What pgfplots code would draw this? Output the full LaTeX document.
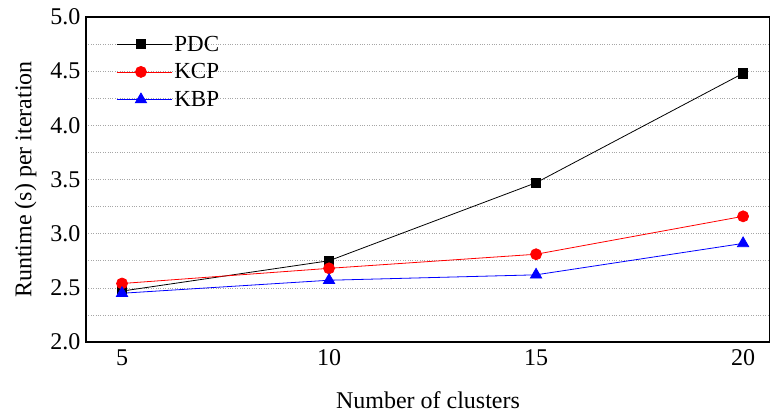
\documentclass[border=0pt]{standalone}
\usepackage{pgfplots}
\pgfplotsset{compat=1.18}
\usepackage{fontspec}
\setmainfont{Liberation Serif}
\begin{document}
\begin{tikzpicture}
\begin{axis}[
  name=ax,
  scale only axis,
  width=684pt, height=325pt,
  xmin=4.13, xmax=20.65,
  ymin=2, ymax=5,
  xtick={5,10,15,20},
  ytick={2,2.5,3,3.5,4,4.5,5},
  minor ytick={2.25,2.75,3.25,3.75,4.25,4.75},
  yticklabel style={/pgf/number format/fixed,/pgf/number format/fixed zerofill,/pgf/number format/precision=1, xshift=-2pt},
  /pgf/number format/assume math mode=true,
  ymajorgrids, yminorgrids,
  major grid style={gray!70, dotted, line width=0.6pt},
  minor grid style={gray!70, dotted, line width=0.6pt},
  tick style={draw=none},
  axis line style={line width=1.4pt},
  ticklabel style={font=\fontsize{24}{26}\selectfont},
  xticklabel style={yshift=-4pt},
  xlabel={Number of clusters},
  ylabel={Runtime (s) per iteration},
  label style={font=\fontsize{24}{26}\selectfont},
  xlabel style={yshift=-19pt},
  ylabel style={yshift=7pt},
  legend style={draw=none, fill=none, at={(0.04,0.955)}, anchor=north west, font=\fontsize{23}{25}\selectfont, row sep=7pt},
  legend cell align=left,
  legend image code/.code={\path (0pt,0pt) -- (55pt,0pt); \draw[#1,mark=none] (0pt,0pt) -- (48pt,0pt); \draw[#1, only marks] plot coordinates {(24pt,0pt)};},
]
\addplot[black, line width=0.8pt, mark=square*, mark size=4.7pt, mark options={solid}] coordinates {(5,2.47) (10,2.75) (15,3.47) (20,4.48)};
\addlegendentry{PDC}
\addplot[red, line width=0.8pt, mark=*, mark size=5.5pt] coordinates {(5,2.54) (10,2.68) (15,2.81) (20,3.16)};
\addlegendentry{KCP}
\addplot[blue, line width=0.8pt, mark=triangle*, mark size=6.5pt] coordinates {(5,2.45) (10,2.57) (15,2.62) (20,2.91)};
\addlegendentry{KBP}
\end{axis}
\pgfresetboundingbox
\path ([shift={(-86pt,-72pt)}]ax.south west) rectangle ([shift={(0pt,17pt)}]ax.north east);
\end{tikzpicture}
\end{document}
